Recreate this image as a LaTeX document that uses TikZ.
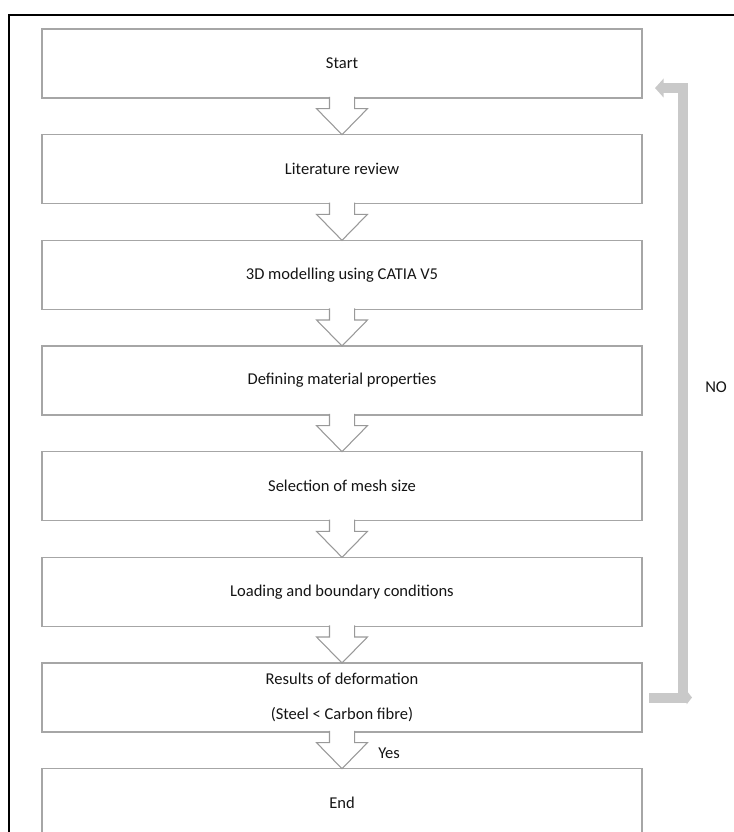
\documentclass[tikz,border=0pt]{standalone}
\usepackage{fontspec}
\setmainfont{Carlito}
\usepackage{tikz}
\usetikzlibrary{arrows.meta, calc, positioning}

\tikzset{
  stepbox/.style={draw=black!35, line width=1.2pt, minimum width=450pt,
    minimum height=51.75pt, outer sep=0pt, inner sep=4pt, align=center,
    font=\fontsize{12.4}{14.4}\selectfont, text=black!92},
  flowtip/.style={draw=black!40, line width=0.8pt, line join=miter},
  loopline/.style={draw=black!21, line width=7.5pt},
  labeltext/.style={font=\fontsize{12.4}{14.4}\selectfont, text=black!92, inner sep=0pt}
}

% hollow block arrow from one box down to the next
\newcommand{\flowarrow}[2]{%
  \fill[white] ($(#1.south)+(-9.4,0.8)$) |- ($(#2.north)+(-19.1,19.5)$) -- (#2.north)
    -- ($(#2.north)+(19.1,19.5)$) -| ($(#1.south)+(9.4,0.8)$) -- cycle;
  \draw[flowtip] ($(#1.south)+(-9.4,0.8)$) |- ($(#2.north)+(-19.1,19.5)$) -- (#2.north)
    -- ($(#2.north)+(19.1,19.5)$) -| ($(#1.south)+(9.4,0.8)$);
}

\begin{document}
\begin{tikzpicture}[x=1pt, y=1pt, node distance=27.5pt]
    \useasboundingbox (0,0) rectangle (550.5,-624);

    % 1. outer frame (cut at the right and bottom edge)
    \draw[line width=1.5pt] (550.5,-11.25) -- (6.75,-11.25) -- (6.75,-624);

    % 2. process boxes
    \node[stepbox] (start) at (256.5,-47.625) {Start};
    \node[stepbox, below=of start] (review) {Literature review};
    \node[stepbox, below=of review] (model) {3D modelling using CATIA V5};
    \node[stepbox, below=of model] (material) {Defining material properties};
    \node[stepbox, below=of material] (mesh) {Selection of mesh size};
    \node[stepbox, below=of mesh] (load) {Loading and boundary conditions};
    \node[stepbox, below=of load] (result) {Results of deformation\\[11.5pt](Steel < Carbon fibre)};
    \node[stepbox, below=of result] (finish) {End};

    % 3. block arrows between the boxes
    \foreach \a/\b in {start/review, review/model, model/material, material/mesh,
                       mesh/load, load/result, result/finish}
        \flowarrow{\a}{\b};

    % 4. loop back to the start
    \draw[loopline, -{Triangle[width=10pt, length=4pt]}]
        ([xshift=5.25pt]result.east) -- ([xshift=37.5pt]result.east);
    \draw[loopline, -{Triangle[width=14pt, length=6.5pt]}]
        ([xshift=5.25pt]result.east) -| ([xshift=30.75pt, yshift=-18.4pt]start.east)
        -- ([xshift=9.75pt, yshift=-18.4pt]start.east);

    % 5. labels
    \node[labeltext, anchor=west] (yes) at ($(result.south)+(27,-15.75)$) {Yes};
    \node[labeltext, anchor=west] (no) at (528.75,-290.25) {NO};
\end{tikzpicture}
\end{document}
